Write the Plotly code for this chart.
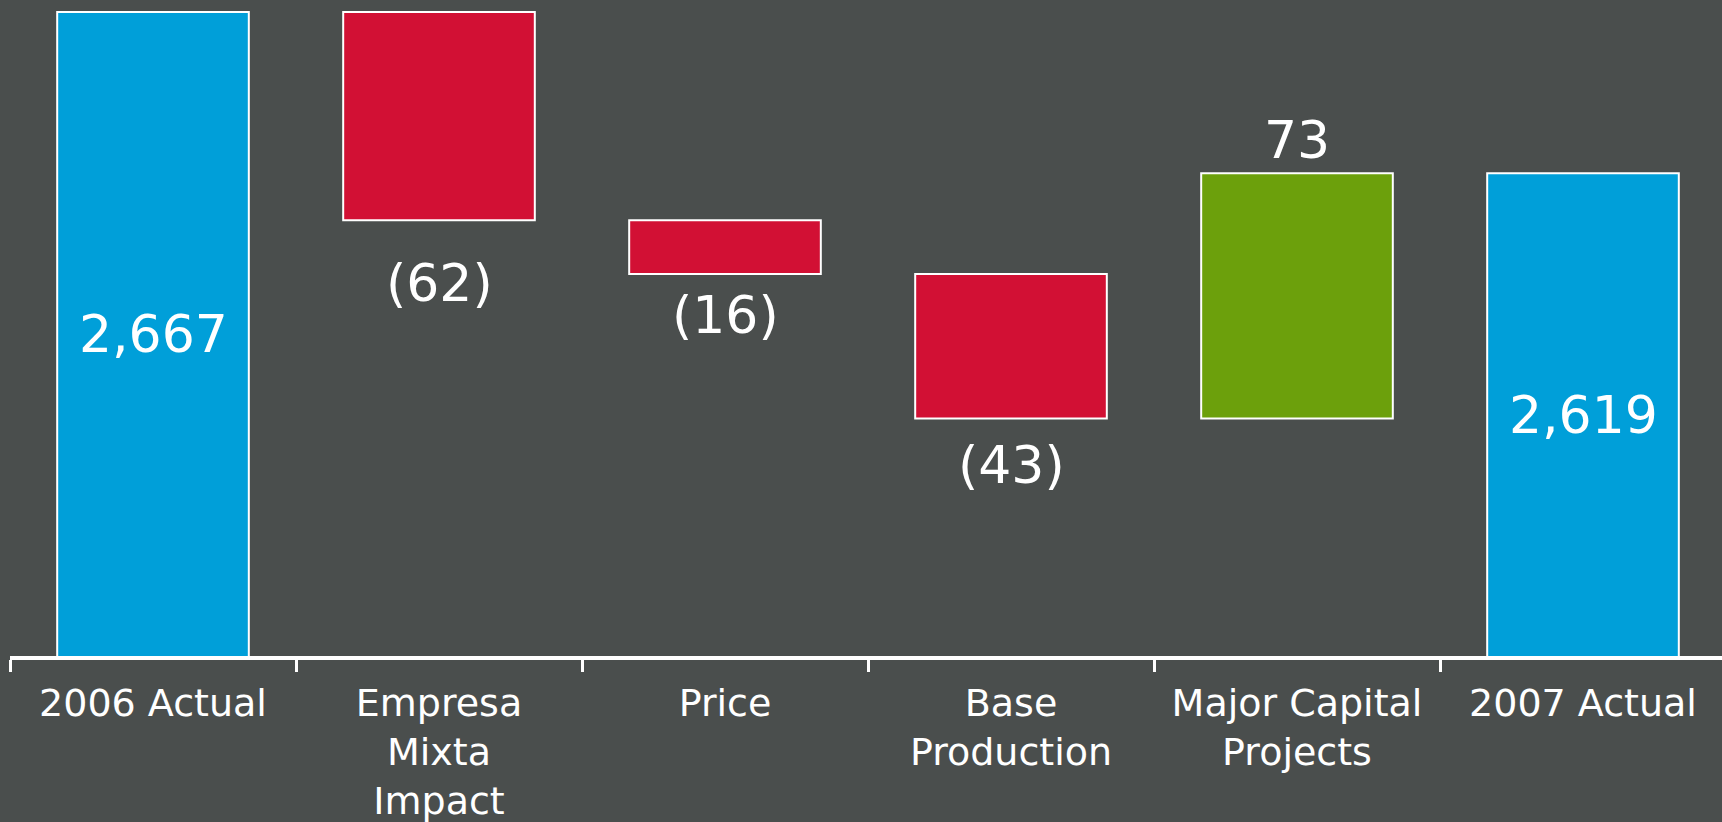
import plotly.graph_objects as go

categories = ["2006 Actual", "Empresa<br>Mixta<br>Impact", "Price", "Base<br>Production",
              "Major Capital<br>Projects", "2007 Actual"]
measures = ["absolute", "relative", "relative", "relative", "relative", "total"]
values = [2667, -62, -16, -43, 73, 0]
y_min, y_max = 2475.3, 2670.6

BG = "#4a4e4d"
BLUE = "#009fd9"
RED = "#d21034"
GREEN = "#6ca00c"
FONT = "Verdana, DejaVu Sans, sans-serif"

fig = go.Figure(go.Waterfall(
    x=categories,
    measure=measures,
    y=values,
    width=0.67,
    increasing=dict(marker=dict(color=GREEN, line=dict(color="white", width=2))),
    decreasing=dict(marker=dict(color=RED, line=dict(color="white", width=2))),
    totals=dict(marker=dict(color=BLUE, line=dict(color="white", width=2))),
    connector=dict(visible=False),
    cliponaxis=True,
    hoverinfo="skip",
))

# label positions derived from the data
running = 0
label_shift = [0, -63, -41, -46, 33, 0]
for i, (cat, m, v) in enumerate(zip(categories, measures, values)):
    if m == "absolute":
        running = v
        fig.add_annotation(x=cat, y=(running + y_min) / 2, text=f"{running:,}",
                           showarrow=False, yanchor="middle")
    elif m == "total":
        fig.add_annotation(x=cat, y=(running + y_min) / 2, text=f"{running:,}",
                           showarrow=False, yanchor="middle")
    else:
        running += v
        txt = f"({abs(v)})" if v < 0 else f"{v}"
        fig.add_annotation(x=cat, y=running, text=txt, showarrow=False,
                           yanchor="middle", yshift=label_shift[i])

fig.update_annotations(font=dict(family=FONT, size=52, color="white"))

fig.update_layout(
    width=1722, height=822,
    paper_bgcolor=BG, plot_bgcolor=BG,
    margin=dict(l=10, r=0, t=0, b=166, autoexpand=False),
    showlegend=False,
    font=dict(family=FONT, color="white"),
    xaxis=dict(
        range=[-0.5, 5.486], automargin=False,
        showline=True, linecolor="white", linewidth=4,
        ticks="outside", tickson="boundaries", ticklen=12, tickwidth=3, tickcolor="white",
        ticklabelstandoff=10,
        tickfont=dict(family=FONT, size=38, color="white"),
        showgrid=False, zeroline=False,
    ),
    yaxis=dict(range=[y_min, y_max], visible=False, showgrid=False, zeroline=False,
               automargin=False),
)

fig.write_html(
    "out.html",
    config={"displayModeBar": False},
    post_script="document.body.style.margin='0';document.body.style.overflow='hidden';"
                "document.documentElement.style.overflow='hidden';",
)
